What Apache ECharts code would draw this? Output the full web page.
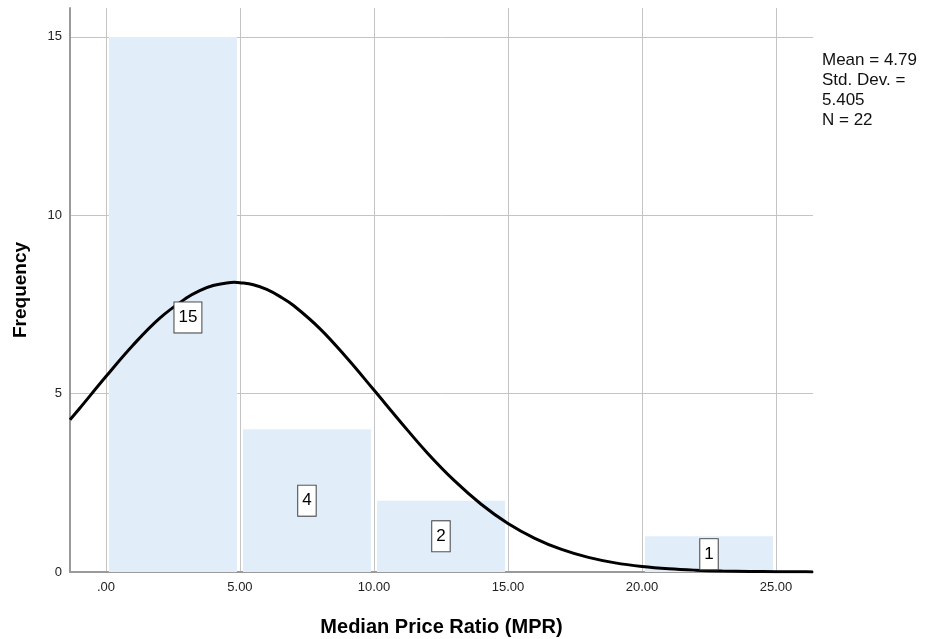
<!DOCTYPE html>
<html>
<head>
<meta charset="utf-8">
<title>Median Price Ratio histogram</title>
<script src="https://cdn.jsdelivr.net/npm/echarts@6/dist/echarts.min.js"></script>
</head>
<body style="margin:0;background:#fff;">
<div id="container" style="width:929px;height:639px;"></div>
<script type="text/javascript">
// bins of the histogram (start, end) and counts
var binStart = [0, 5, 10, 15, 20];
var binEnd = [5, 10, 15, 20, 25];
var binCount = [15, 4, 2, 0, 1];

// normal curve
var curveX = [-1.34, -1, 0, 1, 2, 3, 3.5, 4, 4.5, 4.79, 5, 5.5, 6, 6.5, 7, 8, 9, 10, 11, 12, 13, 14, 15, 16, 17, 18, 19, 20, 21, 22, 23, 24, 25, 26, 26.38];
var curveY = [4.27, 4.57, 5.48, 6.35, 7.11, 7.68, 7.89, 8.03, 8.10, 8.12, 8.11, 8.05, 7.92, 7.72, 7.47, 6.81, 5.99, 5.10, 4.20, 3.33, 2.56, 1.90, 1.36, 0.945, 0.633, 0.410, 0.256, 0.155, 0.090, 0.051, 0.028, 0.015, 0.0075, 0.004, 0.003];

var xTicks = [0, 5, 10, 15, 20, 25];
var xTickLabels = ['.00', '5.00', '10.00', '15.00', '20.00', '25.00'];
var yTicks = [0, 5, 10, 15];
var yTickLabels = ['0', '5', '10', '15'];

var statsLines = ['Mean = 4.79', 'Std. Dev. =', '5.405', 'N = 22'];

var bars = [];
var curve = [];
for (var i = 0; i < binCount.length; i++) {
	if (binCount[i] > 0) bars.push([binStart[i], binEnd[i], binCount[i]]);
}
for (var j = 0; j < curveX.length; j++) curve.push([curveX[j], curveY[j]]);

var font = 'Liberation Sans, Arial, sans-serif';

var dom = document.getElementById('container');
var myChart = echarts.init(dom);
var option = {
	backgroundColor: '#ffffff',
	animation: false,
	grid: { left: 70, right: 116, top: 8, bottom: 67, outerBoundsMode: 'none' },
	xAxis: {
		type: 'value',
		min: -1.34,
		max: 26.38,
		name: 'Median Price Ratio (MPR)',
		nameLocation: 'middle',
		nameGap: 45,
		nameTextStyle: { fontFamily: font, fontSize: 20, fontWeight: 'bold', color: '#000' },
		axisLine: { show: true, lineStyle: { color: '#9a9a9a', width: 2 } },
		axisTick: { show: false, customValues: xTicks },
		axisLabel: {
			customValues: xTicks,
			margin: 9,
			fontFamily: font,
			fontSize: 13,
			color: '#222',
			formatter: function (v) { return xTickLabels[xTicks.indexOf(v)]; }
		},
		splitLine: { show: true, lineStyle: { color: '#c4c4c4', width: 1 } }
	},
	yAxis: {
		type: 'value',
		min: 0,
		max: 15.81,
		name: 'Frequency',
		nameLocation: 'middle',
		nameGap: 40,
		nameTextStyle: { fontFamily: font, fontSize: 19, fontWeight: 'bold', color: '#000' },
		axisLine: { show: true, onZero: false, lineStyle: { color: '#9a9a9a', width: 2 } },
		axisTick: { show: false, customValues: yTicks },
		axisLabel: {
			customValues: yTicks,
			margin: 8,
			fontFamily: font,
			fontSize: 13,
			color: '#222',
			formatter: function (v) { return yTickLabels[yTicks.indexOf(v)]; }
		},
		splitLine: { show: true, lineStyle: { color: '#c4c4c4', width: 1 } }
	},
	graphic: [{
		type: 'text',
		left: 822,
		top: 50,
		style: {
			text: statsLines.join('\n'),
			fontFamily: font,
			fontSize: 17,
			lineHeight: 20,
			fill: '#111'
		}
	}],
	series: [
		{
			type: 'custom',
			z: 1,
			data: bars,
			encode: { x: [0, 1], y: 2 },
			renderItem: function (params, api) {
				var p0 = api.coord([api.value(0), 0]);
				var p1 = api.coord([api.value(1), api.value(2)]);
				return {
					type: 'rect',
					shape: { x: p0[0] + 3, y: p1[1], width: p1[0] - p0[0] - 6, height: p0[1] - p1[1] },
					style: { fill: '#e2edfa' }
				};
			}
		},
		{
			type: 'line',
			z: 2,
			data: curve,
			smooth: 0.4,
			symbol: 'none',
			lineStyle: { color: '#000', width: 3 }
		},
		{
			// count labels in boxes
			type: 'custom',
			z: 3,
			data: bars,
			encode: { x: [0, 1], y: 2 },
			renderItem: function (params, api) {
				var v = api.value(2);
				var mid = (api.value(0) + api.value(1)) / 2;
				var p = api.coord([mid, v / 2]);
				var big = v > 10;
				return {
					type: 'text',
					x: p[0] + (big ? 15 : 0),
					y: p[1] + (big ? 13 : 0),
					style: {
						text: String(v),
						align: 'center',
						verticalAlign: 'middle',
						fontFamily: font,
						fontSize: 17,
						lineHeight: 17,
						fill: '#000',
						backgroundColor: '#fff',
						borderColor: '#444',
						borderWidth: 1,
						padding: [7, 4, 6, 4]
					}
				};
			}
		}
	]
};
myChart.setOption(option);
</script>
</body>
</html>
